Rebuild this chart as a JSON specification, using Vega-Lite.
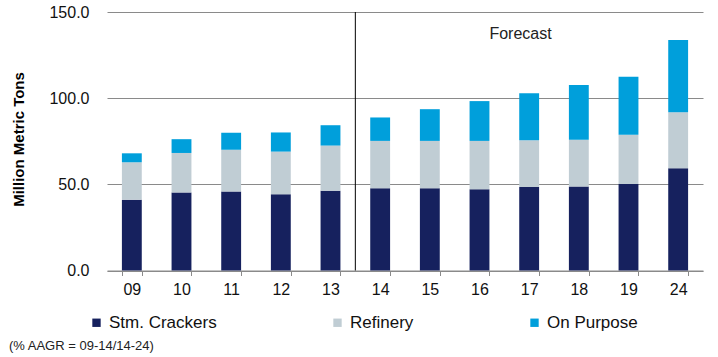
{
  "$schema": "https://vega.github.io/schema/vega-lite/v6.json",
  "autosize": {"type": "none"},
  "padding": {"left": 107, "top": 12, "right": 15, "bottom": 86.5},
  "width": 596,
  "height": 258.5,
  "background": "white",
  "config": {
    "view": {"stroke": null},
    "font": "Liberation Sans"
  },
  "title": {
    "text": "(% AAGR = 09-14/14-24)",
    "orient": "bottom",
    "anchor": "start",
    "frame": "group",
    "dx": -98,
    "offset": 9,
    "fontSize": 13,
    "fontWeight": "normal",
    "color": "#222222"
  },
  "layer": [
    {
      "data": {
        "values": [
          {"year": "09", "source": "Stm. Crackers", "order": 1, "value": 41.1},
          {"year": "09", "source": "Refinery", "order": 2, "value": 21.7},
          {"year": "09", "source": "On Purpose", "order": 3, "value": 5.2},
          {"year": "10", "source": "Stm. Crackers", "order": 1, "value": 45.3},
          {"year": "10", "source": "Refinery", "order": 2, "value": 22.9},
          {"year": "10", "source": "On Purpose", "order": 3, "value": 8.0},
          {"year": "11", "source": "Stm. Crackers", "order": 1, "value": 45.9},
          {"year": "11", "source": "Refinery", "order": 2, "value": 24.1},
          {"year": "11", "source": "On Purpose", "order": 3, "value": 9.9},
          {"year": "12", "source": "Stm. Crackers", "order": 1, "value": 44.2},
          {"year": "12", "source": "Refinery", "order": 2, "value": 24.8},
          {"year": "12", "source": "On Purpose", "order": 3, "value": 11.1},
          {"year": "13", "source": "Stm. Crackers", "order": 1, "value": 46.3},
          {"year": "13", "source": "Refinery", "order": 2, "value": 26.2},
          {"year": "13", "source": "On Purpose", "order": 3, "value": 11.8},
          {"year": "14", "source": "Stm. Crackers", "order": 1, "value": 47.7},
          {"year": "14", "source": "Refinery", "order": 2, "value": 27.5},
          {"year": "14", "source": "On Purpose", "order": 3, "value": 13.6},
          {"year": "15", "source": "Stm. Crackers", "order": 1, "value": 47.7},
          {"year": "15", "source": "Refinery", "order": 2, "value": 27.5},
          {"year": "15", "source": "On Purpose", "order": 3, "value": 18.4},
          {"year": "16", "source": "Stm. Crackers", "order": 1, "value": 47.1},
          {"year": "16", "source": "Refinery", "order": 2, "value": 28.1},
          {"year": "16", "source": "On Purpose", "order": 3, "value": 23.1},
          {"year": "17", "source": "Stm. Crackers", "order": 1, "value": 48.5},
          {"year": "17", "source": "Refinery", "order": 2, "value": 27.1},
          {"year": "17", "source": "On Purpose", "order": 3, "value": 27.3},
          {"year": "18", "source": "Stm. Crackers", "order": 1, "value": 48.7},
          {"year": "18", "source": "Refinery", "order": 2, "value": 27.1},
          {"year": "18", "source": "On Purpose", "order": 3, "value": 31.8},
          {"year": "19", "source": "Stm. Crackers", "order": 1, "value": 50.2},
          {"year": "19", "source": "Refinery", "order": 2, "value": 28.5},
          {"year": "19", "source": "On Purpose", "order": 3, "value": 33.7},
          {"year": "24", "source": "Stm. Crackers", "order": 1, "value": 59.3},
          {"year": "24", "source": "Refinery", "order": 2, "value": 32.6},
          {"year": "24", "source": "On Purpose", "order": 3, "value": 41.8}
        ]
      },
      "mark": {"type": "bar"},
      "encoding": {
        "x": {
          "field": "year",
          "type": "ordinal",
          "sort": null,
          "scale": {"paddingInner": 0.6, "paddingOuter": 0.3},
          "axis": {
            "title": null,
            "labelAngle": 0,
            "labelFontSize": 16,
            "labelColor": "#111111",
            "labelPadding": 6,
            "domainColor": "#8a8a8a",
            "domainWidth": 1,
            "tickColor": "#8a8a8a",
            "tickSize": 5,
            "tickBand": "extent",
            "grid": false
          }
        },
        "y": {
          "field": "value",
          "type": "quantitative",
          "stack": "zero",
          "scale": {"domain": [0, 150], "nice": false},
          "axis": {
            "title": "Million Metric Tons",
            "titleFontSize": 15,
            "titleFontWeight": "bold",
            "titleColor": "#000000",
            "titleAngle": -90,
            "titleX": -89,
            "titleY": 127,
            "titleAlign": "center",
            "titleBaseline": "middle",
            "values": [0, 50, 100, 150],
            "format": ".1f",
            "labelFontSize": 16,
            "labelColor": "#111111",
            "labelPadding": 18,
            "tickSize": 0,
            "ticks": false,
            "domain": false,
            "grid": true,
            "gridColor": "#8a8a8a",
            "gridWidth": 1
          }
        },
        "color": {
          "field": "source",
          "type": "nominal",
          "scale": {
            "domain": ["Stm. Crackers", "Refinery", "On Purpose"],
            "range": ["#16215e", "#c0cdd4", "#009fdb"]
          },
          "legend": {
            "title": null,
            "orient": "none",
            "direction": "horizontal",
            "legendX": -19,
            "legendY": 302,
            "symbolType": "square",
            "symbolSize": 70,
            "symbolStrokeWidth": 0,
            "labelFontSize": 17,
            "labelColor": "#111111",
            "labelOffset": 4,
            "columnPadding": 112,
            "padding": 0,
            "labelLimit": 300
          }
        },
        "order": {"field": "order", "type": "quantitative"}
      }
    },
    {
      "data": {"values": [{"x": "13"}]},
      "mark": {"type": "rule", "color": "#000000", "strokeWidth": 1},
      "encoding": {
        "x": {"field": "x", "type": "ordinal", "bandPosition": 1.75},
        "y": {"datum": 150, "type": "quantitative"},
        "y2": {"datum": 0}
      }
    },
    {
      "data": {"values": [{"x": "16", "label": "Forecast"}]},
      "mark": {"type": "text", "align": "left", "baseline": "middle", "fontSize": 16, "color": "#222222"},
      "encoding": {
        "x": {"field": "x", "type": "ordinal", "bandPosition": 1},
        "y": {"datum": 137, "type": "quantitative"},
        "text": {"field": "label"}
      }
    }
  ]
}
